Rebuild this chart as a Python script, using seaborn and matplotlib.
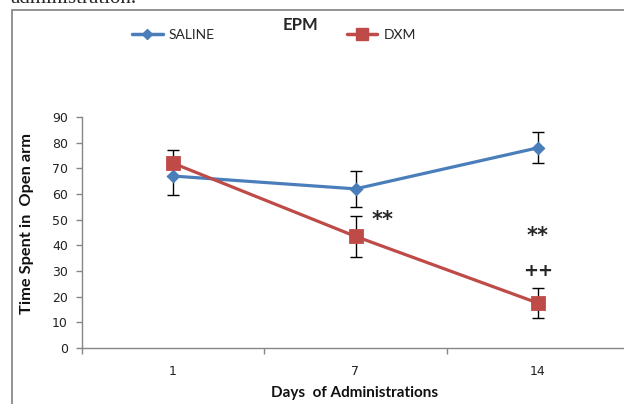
import matplotlib
matplotlib.use("Agg")
import matplotlib.pyplot as plt
import seaborn as sns
import pandas as pd
from matplotlib.patches import Rectangle
from matplotlib.lines import Line2D

# ---- data ----
days = ["1", "7", "14"]
saline = [67, 62, 78]
saline_err = [7.5, 7, 6]
dxm = [72, 43.5, 17.5]
dxm_err = [5, 8, 6]
groups = ["SALINE", "DXM"]
colors = {"SALINE": "#4A7EBB", "DXM": "#BE4B48"}
y_ticks = [0, 10, 20, 30, 40, 50, 60, 70, 80, 90]

df = pd.DataFrame({
    "day": days * 2,
    "value": saline + dxm,
    "group": ["SALINE"] * 3 + ["DXM"] * 3,
})

sns.set_theme(style="white")
plt.rcParams["font.family"] = ["Lato", "DejaVu Sans"]

W, H = 624, 404
fig = plt.figure(figsize=(W / 100, H / 100), dpi=100)
fig.patch.set_facecolor("white")

def fx(px):
    return px / W

def fy(py):
    return 1 - py / H

left, right, top, bottom = 81.75, 629.25, 117, 348
ax = fig.add_axes([fx(left), fy(bottom), (right - left) / W, (bottom - top) / H])

sns.pointplot(data=df, x="day", y="value", hue="group", order=days,
              hue_order=groups, palette=colors, markers=["D", "s"],
              linestyles=["-", "-"], errorbar=None, ax=ax, legend=False)

lines = ax.get_lines()
for ln in lines:
    ln.set_linewidth(2.3)
sal_line, dxm_line = lines[0], lines[1]
sal_line.set_markersize(5.5)
dxm_line.set_markersize(8.5)
sal_line.set_zorder(3)
dxm_line.set_zorder(4)

pos = list(range(len(days)))
ax.errorbar(pos, saline, yerr=saline_err, fmt="none", ecolor="black",
            elinewidth=1.0, capsize=4, capthick=1.0, zorder=2)
ax.errorbar(pos, dxm, yerr=dxm_err, fmt="none", ecolor="black",
            elinewidth=1.0, capsize=4, capthick=1.0, zorder=2)

ax.set_xlim(-0.5, 2.5)
ax.set_ylim(0, 90)
ax.set_yticks(y_ticks)
ax.set_yticklabels([str(t) for t in y_ticks], fontfamily="DejaVu Sans",
                   fontsize=9, color="#222222")
ax.set_xticks(pos)
ax.set_xticklabels(days, fontfamily="DejaVu Sans", fontsize=9, color="#222222")
ax.set_xticks([-0.5, 0.5, 1.5, 2.5], minor=True)
ax.tick_params(axis="x", which="major", length=0, pad=12)
ax.tick_params(axis="x", which="minor", length=4, width=1, color="#868686",
               direction="out", bottom=True)
ax.tick_params(axis="y", which="major", length=4, width=1, color="#868686",
               direction="out", left=True, pad=6)

for s in ["top", "right"]:
    ax.spines[s].set_visible(False)
for s in ["left", "bottom"]:
    ax.spines[s].set_color("#868686")
    ax.spines[s].set_linewidth(1.0)

ax.set_xlabel("Days  of Administrations", fontsize=11, fontweight="bold",
              color="#111111", va="center")
ax.xaxis.set_label_coords((355 - left) / (right - left), -(393 - bottom) / (bottom - top))
ax.set_ylabel("Time Spent in  Open arm", fontsize=11.8, fontweight="bold",
              color="#111111", va="center")
ax.yaxis.set_label_coords(-(left - 27) / (right - left), 0.5 - (223.5 - 232.5) / (bottom - top))

# significance marks
ax.text(1.15, 50.0, "**", fontsize=15, fontweight="bold", ha="center",
        va="center", fontfamily="DejaVu Sans")
ax.text(2.0, 43.5, "**", fontsize=15, fontweight="bold", ha="center",
        va="center", fontfamily="DejaVu Sans")
ax.text(2.0, 30, "++", fontsize=13, fontweight="bold", ha="center",
        va="center", fontfamily="DejaVu Sans")

# title and legend
fig.text(fx(300), fy(25), "EPM", fontsize=12, fontweight="bold",
         ha="center", va="center")
handles = [
    Line2D([], [], color=colors["SALINE"], lw=2.5, marker="D", markersize=5),
    Line2D([], [], color=colors["DXM"], lw=2.5, marker="s", markersize=8),
]
fig.legend(handles, groups, loc="center", bbox_to_anchor=(fx(274), fy(35)),
           ncol=2, frameon=False, fontsize=10, handlelength=2.2,
           handletextpad=0.45, columnspacing=9.5, borderaxespad=0)

# chart border and clipped page text
fig.add_artist(Rectangle((fx(11.5), fy(420)), (700) / W, (420 - 9.5) / H,
                         transform=fig.transFigure, fill=False,
                         edgecolor="#8a8a8a", linewidth=1.3))
fig.text(fx(10), fy(3), "administration.", fontsize=15,
         fontfamily="Liberation Serif", ha="left", va="baseline")

fig.savefig("out.png", dpi=100)
